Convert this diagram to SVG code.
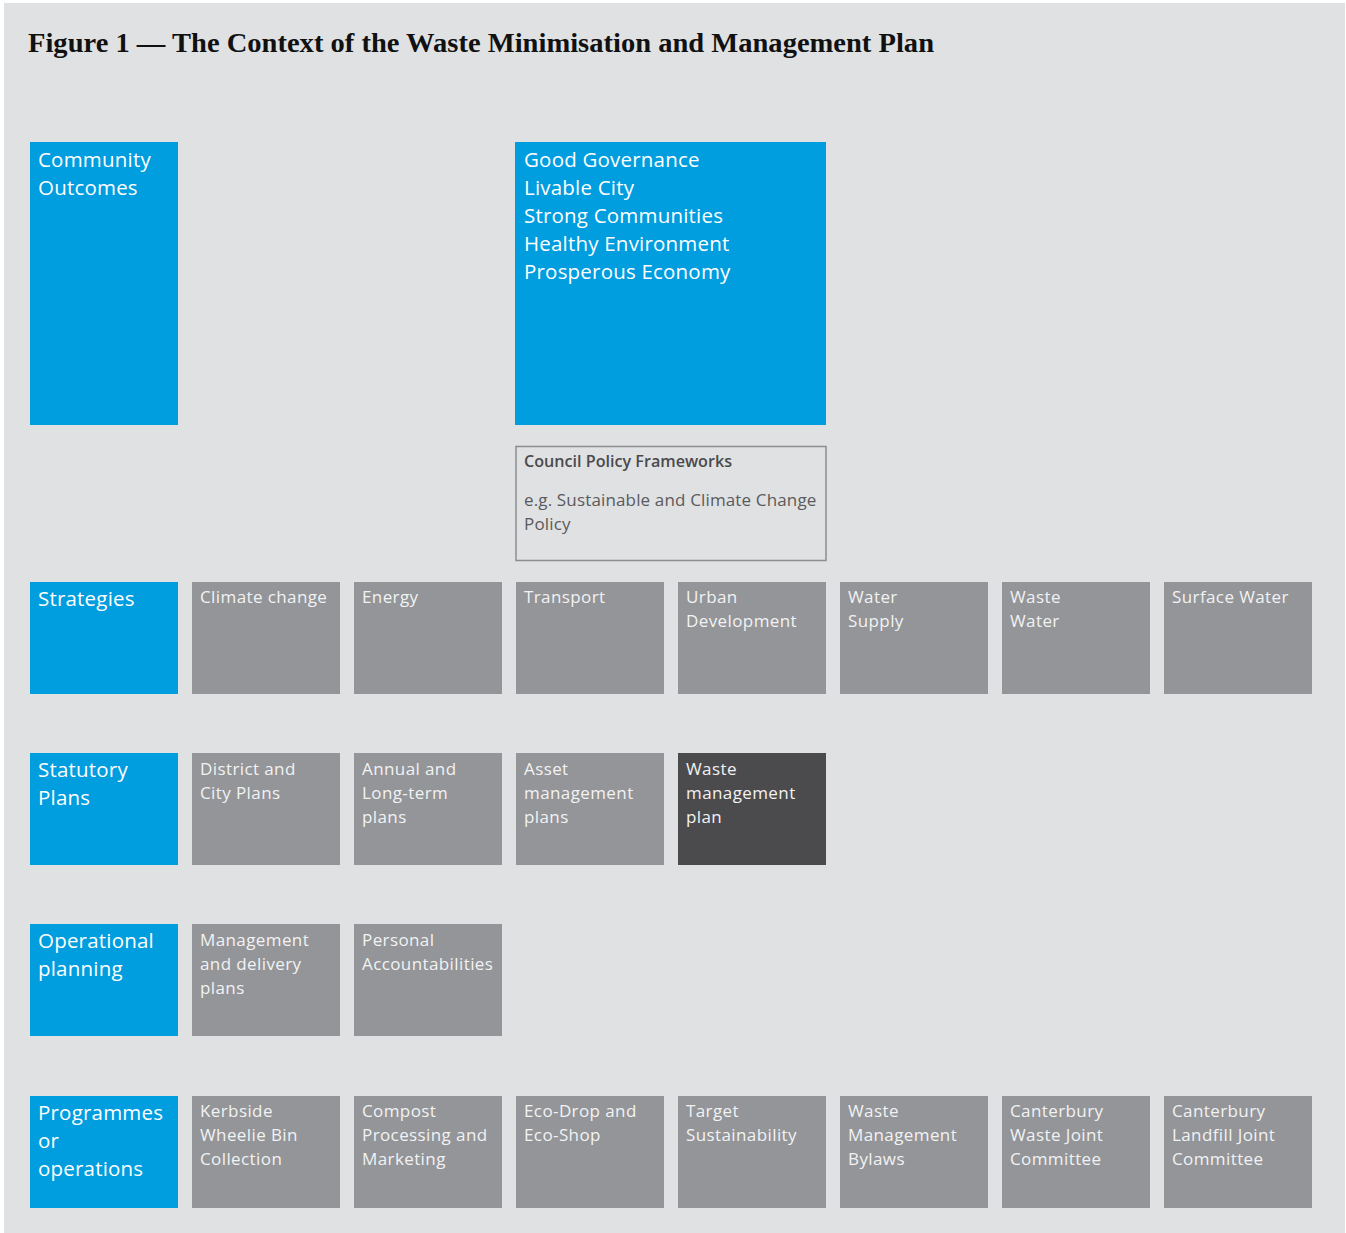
<svg xmlns="http://www.w3.org/2000/svg" width="1346" height="1233" viewBox="0 0 1346 1233">
  <style>
    .bg { fill: #e0e1e3; }
    .blue { fill: #009ddf; }
    .grey { fill: #939598; }
    .dark { fill: #4b4b4d; }
    .frame { fill: none; stroke: #8c8d90; stroke-width: 1.5; }
    .title { font-family: "Liberation Serif", "DejaVu Serif", serif; font-weight: bold; font-size: 27px; fill: #111111; }
    .lbl { font-family: "Open Sans", "Noto Sans", sans-serif; font-size: 20.5px; letter-spacing: 0.2px; fill: #ffffff; }
    .txt { font-family: "Open Sans", "Noto Sans", sans-serif; font-size: 17px; letter-spacing: 0.4px; fill: #f2f2f3; }
    .pol-h { font-family: "Open Sans", "Noto Sans", sans-serif; font-size: 17px; font-weight: 600; fill: #4a4a4c; }
    .pol { font-family: "Open Sans", "Noto Sans", sans-serif; font-size: 17px; letter-spacing: 0.15px; fill: #5a5a5c; }
  </style>

  <rect x="0" y="0" width="1346" height="1233" fill="#ffffff"/>
  <rect class="bg" x="4" y="3" width="1341" height="1230"/>

  <text class="title" x="28" y="52" textLength="906" lengthAdjust="spacingAndGlyphs">Figure 1 — The Context of the Waste Minimisation and Management Plan</text>

  <!-- top tier -->
  <g id="community-outcomes">
    <rect class="blue" x="30" y="142" width="148" height="283"/>
    <text class="lbl" x="38" y="167">Community</text>
    <text class="lbl" x="38" y="195">Outcomes</text>
  </g>
  <g id="outcomes-list">
    <rect class="blue" x="515" y="142" width="311" height="283"/>
    <text class="lbl" x="524" y="167">Good Governance</text>
    <text class="lbl" x="524" y="195">Livable City</text>
    <text class="lbl" x="524" y="223">Strong Communities</text>
    <text class="lbl" x="524" y="251">Healthy Environment</text>
    <text class="lbl" x="524" y="279">Prosperous Economy</text>
  </g>
  <g id="council-policy">
    <rect class="frame" x="516" y="446.5" width="310" height="114"/>
    <text class="pol-h" x="524" y="467" textLength="208" lengthAdjust="spacingAndGlyphs">Council Policy Frameworks</text>
    <text class="pol" x="524" y="506">e.g. Sustainable and Climate Change</text>
    <text class="pol" x="524" y="530">Policy</text>
  </g>

  <!-- Strategies row -->
  <g id="strategies">
    <rect class="blue" x="30" y="582" width="148" height="112"/>
    <text class="lbl" x="38" y="606">Strategies</text>
  </g>
  <g id="s-climate"><rect class="grey" x="192" y="582" width="148" height="112"/><text class="txt" x="200" y="603">Climate change</text></g>
  <g id="s-energy"><rect class="grey" x="354" y="582" width="148" height="112"/><text class="txt" x="362" y="603">Energy</text></g>
  <g id="s-transport"><rect class="grey" x="516" y="582" width="148" height="112"/><text class="txt" x="524" y="603">Transport</text></g>
  <g id="s-urban"><rect class="grey" x="678" y="582" width="148" height="112"/><text class="txt" x="686" y="603">Urban</text><text class="txt" x="686" y="627">Development</text></g>
  <g id="s-water-supply"><rect class="grey" x="840" y="582" width="148" height="112"/><text class="txt" x="848" y="603">Water</text><text class="txt" x="848" y="627">Supply</text></g>
  <g id="s-waste-water"><rect class="grey" x="1002" y="582" width="148" height="112"/><text class="txt" x="1010" y="603">Waste</text><text class="txt" x="1010" y="627">Water</text></g>
  <g id="s-surface-water"><rect class="grey" x="1164" y="582" width="148" height="112"/><text class="txt" x="1172" y="603">Surface Water</text></g>

  <!-- Statutory Plans row -->
  <g id="statutory-plans">
    <rect class="blue" x="30" y="753" width="148" height="112"/>
    <text class="lbl" x="38" y="777">Statutory</text>
    <text class="lbl" x="38" y="805">Plans</text>
  </g>
  <g id="p-district"><rect class="grey" x="192" y="753" width="148" height="112"/><text class="txt" x="200" y="775">District and</text><text class="txt" x="200" y="799">City Plans</text></g>
  <g id="p-annual"><rect class="grey" x="354" y="753" width="148" height="112"/><text class="txt" x="362" y="775">Annual and</text><text class="txt" x="362" y="799">Long-term</text><text class="txt" x="362" y="823">plans</text></g>
  <g id="p-asset"><rect class="grey" x="516" y="753" width="148" height="112"/><text class="txt" x="524" y="775">Asset</text><text class="txt" x="524" y="799">management</text><text class="txt" x="524" y="823">plans</text></g>
  <g id="p-waste"><rect class="dark" x="678" y="753" width="148" height="112"/><text class="txt" x="686" y="775">Waste</text><text class="txt" x="686" y="799">management</text><text class="txt" x="686" y="823">plan</text></g>

  <!-- Operational planning row -->
  <g id="operational-planning">
    <rect class="blue" x="30" y="924" width="148" height="112"/>
    <text class="lbl" x="38" y="948">Operational</text>
    <text class="lbl" x="38" y="976">planning</text>
  </g>
  <g id="o-management"><rect class="grey" x="192" y="924" width="148" height="112"/><text class="txt" x="200" y="946">Management</text><text class="txt" x="200" y="970">and delivery</text><text class="txt" x="200" y="994">plans</text></g>
  <g id="o-personal"><rect class="grey" x="354" y="924" width="148" height="112"/><text class="txt" x="362" y="946">Personal</text><text class="txt" x="362" y="970">Accountabilities</text></g>

  <!-- Programmes row -->
  <g id="programmes">
    <rect class="blue" x="30" y="1096" width="148" height="112"/>
    <text class="lbl" x="38" y="1120">Programmes</text>
    <text class="lbl" x="38" y="1148">or</text>
    <text class="lbl" x="38" y="1176">operations</text>
  </g>
  <g id="g-kerbside"><rect class="grey" x="192" y="1096" width="148" height="112"/><text class="txt" x="200" y="1117">Kerbside</text><text class="txt" x="200" y="1141">Wheelie Bin</text><text class="txt" x="200" y="1165">Collection</text></g>
  <g id="g-compost"><rect class="grey" x="354" y="1096" width="148" height="112"/><text class="txt" x="362" y="1117">Compost</text><text class="txt" x="362" y="1141">Processing and</text><text class="txt" x="362" y="1165">Marketing</text></g>
  <g id="g-ecodrop"><rect class="grey" x="516" y="1096" width="148" height="112"/><text class="txt" x="524" y="1117">Eco-Drop and</text><text class="txt" x="524" y="1141">Eco-Shop</text></g>
  <g id="g-target"><rect class="grey" x="678" y="1096" width="148" height="112"/><text class="txt" x="686" y="1117">Target</text><text class="txt" x="686" y="1141">Sustainability</text></g>
  <g id="g-bylaws"><rect class="grey" x="840" y="1096" width="148" height="112"/><text class="txt" x="848" y="1117">Waste</text><text class="txt" x="848" y="1141">Management</text><text class="txt" x="848" y="1165">Bylaws</text></g>
  <g id="g-waste-joint"><rect class="grey" x="1002" y="1096" width="148" height="112"/><text class="txt" x="1010" y="1117">Canterbury</text><text class="txt" x="1010" y="1141">Waste Joint</text><text class="txt" x="1010" y="1165">Committee</text></g>
  <g id="g-landfill-joint"><rect class="grey" x="1164" y="1096" width="148" height="112"/><text class="txt" x="1172" y="1117">Canterbury</text><text class="txt" x="1172" y="1141">Landfill Joint</text><text class="txt" x="1172" y="1165">Committee</text></g>

  <!-- no connectors are drawn between the tiers -->
  <g id="connectors"></g>
</svg>
